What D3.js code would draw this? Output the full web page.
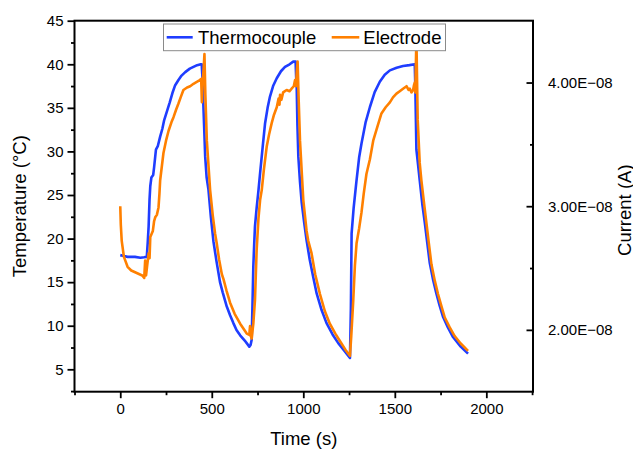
<!DOCTYPE html>
<html>
<head>
<meta charset="utf-8">
<script src="https://cdn.jsdelivr.net/npm/d3@7"></script>
<style>
  body { margin: 0; background: #fff; }
  svg { display: block; font-family: "Liberation Sans", Arial, sans-serif; }
</style>
</head>
<body>
<div id="chart"></div>
<script>
// thermocouple temperature (°C) vs time (s)
const tcTime = [0, 20, 40, 80, 110, 130, 145, 150, 155, 160, 164, 170, 180, 185, 195, 205, 218, 230, 240, 255, 270, 285, 300, 318, 335, 355, 380, 400, 420, 440, 445, 449, 453, 458, 464, 472, 482, 495, 509, 525, 545, 560, 582, 600, 618, 635, 655, 680, 705, 712, 718, 722, 727, 732, 736, 745, 755, 764, 778, 791, 805, 818, 835, 855, 878, 900, 925, 945, 958, 961, 964, 968, 973, 982, 991, 1005, 1018, 1035, 1055, 1073, 1100, 1127, 1160, 1191, 1225, 1255, 1260, 1264, 1275, 1290, 1305, 1318, 1340, 1364, 1390, 1418, 1445, 1473, 1510, 1545, 1580, 1609, 1612, 1618, 1627, 1636, 1650, 1664, 1678, 1691, 1710, 1727, 1745, 1764, 1790, 1818, 1860, 1900];
const tcTemp = [18.1, 18.0, 17.9, 17.9, 17.8, 17.85, 17.9, 19.5, 21.4, 24.5, 26.0, 27.0, 27.3, 28.2, 30.2, 30.6, 31.7, 32.6, 33.6, 34.6, 35.6, 36.7, 37.6, 38.2, 38.7, 39.1, 39.5, 39.7, 39.9, 40.0, 40.0, 38.5, 36.0, 33.0, 29.4, 27.0, 25.6, 22.5, 19.7, 17.5, 15.0, 13.8, 12.2, 11.2, 10.3, 9.5, 8.9, 8.3, 7.6, 7.8, 8.4, 12, 16.8, 19.5, 21.4, 23.5, 25.5, 27.5, 30.5, 33.2, 35.0, 36.3, 37.5, 38.4, 39.2, 39.7, 40.0, 40.3, 40.3, 38.5, 37.4, 33, 29.4, 26.5, 24.2, 21.8, 19.8, 17.6, 15.5, 13.7, 11.8, 10.3, 9.0, 8.0, 7.1, 6.3, 12, 20.6, 23.5, 26.5, 29.3, 30.9, 33.3, 35.1, 36.8, 38.0, 38.8, 39.3, 39.6, 39.8, 39.9, 40.0, 37.5, 30.2, 28.5, 26.7, 24.0, 21.8, 19.4, 17.2, 15.2, 13.7, 12.3, 11.0, 9.8, 8.7, 7.6, 6.8];

// electrode current (A) vs time (s)
const elTime = [0, 3, 8, 20, 40, 60, 90, 120, 131, 136, 141, 147, 155, 160, 164, 178, 185, 191, 200, 209, 214, 218, 236, 250, 264, 280, 291, 305, 318, 330, 345, 365, 382, 400, 418, 435, 442, 446, 450, 455, 460, 465, 473, 491, 505, 518, 527, 540, 555, 564, 580, 600, 625, 655, 691, 705, 709, 713, 718, 727, 736, 745, 755, 764, 773, 785, 800, 813, 827, 840, 855, 865, 870, 873, 880, 890, 909, 925, 936, 948, 955, 960, 965, 969, 975, 982, 1000, 1018, 1027, 1045, 1065, 1091, 1118, 1145, 1175, 1200, 1230, 1255, 1262, 1273, 1282, 1291, 1305, 1318, 1330, 1345, 1364, 1382, 1400, 1427, 1450, 1473, 1490, 1509, 1527, 1545, 1564, 1575, 1582, 1591, 1600, 1605, 1609, 1612, 1618, 1625, 1636, 1645, 1660, 1673, 1686, 1700, 1718, 1736, 1755, 1773, 1800, 1827, 1860, 1900];
const elCurrent = [3.0, 2.85, 2.72, 2.59, 2.51, 2.48, 2.46, 2.44, 2.42, 2.56, 2.44, 2.52, 2.62, 2.58, 2.75, 2.80, 2.88, 2.91, 2.93, 2.99, 3.10, 3.21, 3.43, 3.53, 3.61, 3.68, 3.72, 3.78, 3.83, 3.88, 3.94, 3.96, 3.97, 3.99, 4.005, 4.02, 4.03, 3.84, 4.00, 4.10, 4.23, 3.90, 3.53, 3.13, 2.93, 2.78, 2.70, 2.57, 2.45, 2.41, 2.32, 2.22, 2.13, 2.05, 1.97, 1.96, 2.03, 1.95, 1.93, 2.05, 2.24, 2.64, 2.90, 3.05, 3.13, 3.30, 3.48, 3.58, 3.67, 3.74, 3.80, 3.87, 3.82, 3.90, 3.86, 3.92, 3.94, 3.93, 3.95, 3.97, 4.02, 3.97, 4.10, 4.17, 3.85, 3.53, 3.05, 2.80, 2.72, 2.62, 2.45, 2.29, 2.15, 2.05, 1.97, 1.91, 1.84, 1.79, 1.95, 2.24, 2.52, 2.70, 2.82, 2.95, 3.10, 3.26, 3.38, 3.53, 3.62, 3.75, 3.80, 3.84, 3.88, 3.91, 3.93, 3.95, 3.97, 3.94, 3.95, 3.92, 3.94, 3.98, 4.00, 3.92, 4.36, 3.70, 3.35, 3.21, 3.02, 2.86, 2.70, 2.53, 2.40, 2.29, 2.19, 2.10, 2.02, 1.95, 1.89, 1.83].map(v => v * 1e-8);

const xTicks = [0, 500, 1000, 1500, 2000];
const yTicks = [5, 10, 15, 20, 25, 30, 35, 40, 45];
const y2Ticks = [2e-8, 3e-8, 4e-8];
const seriesNames = ['Thermocouple', 'Electrode'];

const W = 633, H = 449;
const m = { left: 74.5, right: 533, top: 20.7, bottom: 391.7 };
const blue = '#1f3dff', orange = '#ff8000';

const svg = d3.select('#chart').append('svg').attr('width', W).attr('height', H);

const x = d3.scaleLinear().domain([-250, 2255]).range([m.left, m.right]);
const y = d3.scaleLinear().domain([2.43, 45]).range([m.bottom, m.top]);
const y2 = d3.scaleLinear().domain([1.5e-8, 4.5e-8]).range([m.bottom, m.top]);

// sci label like 4.00E-08
const sci = v => {
  const e = Math.floor(Math.log10(v) + 1e-9);
  const mant = v / Math.pow(10, e);
  return mant.toFixed(2) + 'E' + (e < 0 ? '\u2212' : '+') + String(Math.abs(e)).padStart(2, '0');
};

// lines
const tcData = tcTime.map((t, i) => [t, tcTemp[i]]);
const elData = elTime.map((t, i) => [t, elCurrent[i]]);

svg.append('path').datum(tcData)
  .attr('fill', 'none').attr('stroke', blue).attr('stroke-width', 2.6).attr('stroke-linejoin', 'round')
  .attr('d', d3.line().x(d => x(d[0])).y(d => y(d[1])));
svg.append('path').datum(elData)
  .attr('fill', 'none').attr('stroke', orange).attr('stroke-width', 2.6).attr('stroke-linejoin', 'round')
  .attr('d', d3.line().x(d => x(d[0])).y(d => y2(d[1])));

// minor ticks
const minorX = d3.range(-250, 2255, 250).filter(v => v % 500 !== 0);
const minorY = d3.range(2.5, 45, 5);
const minorY2 = [2.5e-8, 3.5e-8];

const tickStyle = g => {
  g.select('.domain').remove();
  g.selectAll('line').attr('stroke', '#000').attr('stroke-width', 1.8);
  g.selectAll('text').attr('fill', '#000').style('font-size', '15px').style('font-family', '"Liberation Sans", Arial, sans-serif');
};

svg.append('g').attr('transform', `translate(0,${m.bottom})`)
  .call(d3.axisBottom(x).tickValues(minorX).tickSize(3.5).tickFormat(''))
  .call(tickStyle);
svg.append('g').attr('transform', `translate(0,${m.bottom})`)
  .call(d3.axisBottom(x).tickValues(xTicks).tickSize(6.5).tickPadding(5).tickFormat(d3.format('d')))
  .call(tickStyle);

svg.append('g').attr('transform', `translate(${m.left},0)`)
  .call(d3.axisLeft(y).tickValues(minorY).tickSize(3.5).tickFormat(''))
  .call(tickStyle);
svg.append('g').attr('transform', `translate(${m.left},0)`)
  .call(d3.axisLeft(y).tickValues(yTicks).tickSize(7).tickPadding(4).tickFormat(d3.format('d')))
  .call(tickStyle);

// right axis: ticks point into the plot
svg.append('g').attr('transform', `translate(${m.right},0)`)
  .call(d3.axisRight(y2).tickValues(minorY2).tickSizeInner(-3).tickSizeOuter(0).tickFormat(''))
  .call(tickStyle);
svg.append('g').attr('transform', `translate(${m.right},0)`)
  .call(d3.axisRight(y2).tickValues(y2Ticks).tickSizeInner(-6.5).tickSizeOuter(0).tickPadding(15).tickFormat(sci))
  .call(tickStyle);

// frame
svg.append('rect')
  .attr('x', m.left).attr('y', m.top)
  .attr('width', m.right - m.left).attr('height', m.bottom - m.top)
  .attr('fill', 'none').attr('stroke', '#000').attr('stroke-width', 2);

// axis titles
svg.append('text').attr('x', (m.left + m.right) / 2).attr('y', 444.5)
  .attr('text-anchor', 'middle').style('font-size', '18.5px').text('Time (s)');
svg.append('text').attr('transform', `translate(26,${(m.top + m.bottom) / 2}) rotate(-90)`)
  .attr('text-anchor', 'middle').style('font-size', '18.5px').text('Temperature (°C)');
svg.append('text').attr('transform', `translate(630.5,${(m.top + m.bottom) / 2 + 4}) rotate(-90)`)
  .attr('text-anchor', 'middle').style('font-size', '18.5px').text('Current (A)');

// legend
const lg = svg.append('g');
lg.append('rect').attr('x', 163.5).attr('y', 24).attr('width', 282).attr('height', 26.7)
  .attr('fill', '#fff').attr('stroke', '#8a8a8a').attr('stroke-width', 1);
const legendItems = [
  { name: seriesNames[0], color: blue, x0: 166.7, x1: 192.7, tx: 198 },
  { name: seriesNames[1], color: orange, x0: 331.7, x1: 359.3, tx: 363.3 }
];
legendItems.forEach(d => {
  lg.append('line').attr('x1', d.x0).attr('x2', d.x1).attr('y1', 37.3).attr('y2', 37.3)
    .attr('stroke', d.color).attr('stroke-width', 2.6);
  lg.append('text').attr('x', d.tx).attr('y', 44).style('font-size', '18.5px').text(d.name);
});
</script>
</body>
</html>
